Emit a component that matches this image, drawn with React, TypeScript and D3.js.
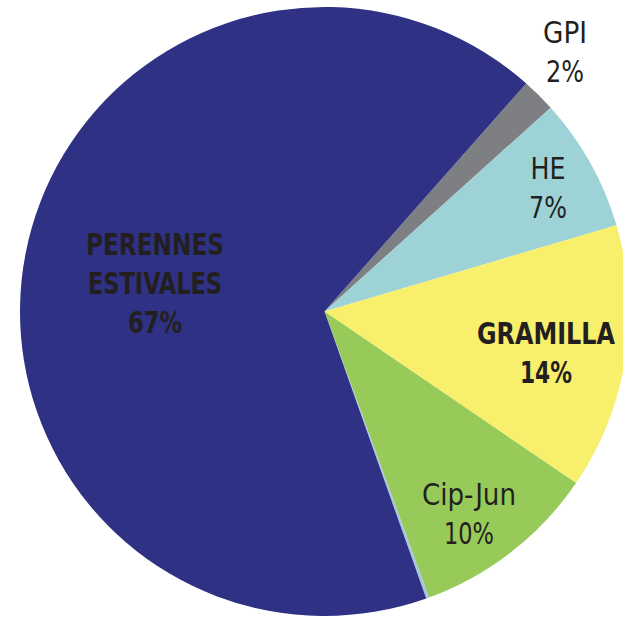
import React from "react";
import * as d3 from "d3";

const categories = ["GPI", "HE", "GRAMILLA", "Cip-Jun", "Otros", "PERENNES ESTIVALES"];
const values = [1.8, 7.1, 14.1, 9.9, 0.15, 66.95];
const percentLabels = ["2%", "7%", "14%", "10%", "", "67%"];
const colors = ["#7E7F83", "#9DD3D7", "#F8EF6D", "#97CA58", "#A7C4E4", "#2E3184"];

const W = 623;
const H = 617;
const cx = 324.5;
const cy = 311.5;
const R = 304.5;
const startDeg = 41.5;

// label layout: centre x, first baseline, weight, and the width of each line
const labelLayout: { x: number; y: number; bold: boolean; lines: string[]; widths: number[] }[] = [
  { x: 565, y: 43, bold: false, lines: ["GPI"], widths: [44, 38] },
  { x: 548, y: 179, bold: false, lines: ["HE"], widths: [35, 38] },
  { x: 546, y: 344, bold: true, lines: ["GRAMILLA"], widths: [138, 52] },
  { x: 469, y: 505, bold: false, lines: ["Cip-Jun"], widths: [94, 50] },
  { x: 0, y: 0, bold: false, lines: [], widths: [] },
  { x: 155, y: 255, bold: true, lines: ["PERENNES", "ESTIVALES"], widths: [138, 134, 54] },
];

export default function App() {
  const pie = d3
    .pie<number>()
    .sort(null)
    .value((d) => d)
    .startAngle((startDeg * Math.PI) / 180)
    .endAngle((startDeg * Math.PI) / 180 + 2 * Math.PI);
  const arcs = pie(values);
  const arc = d3.arc<d3.PieArcDatum<number>>().innerRadius(0).outerRadius(R);
  const lineH = 39;
  return (
    <svg
      width={W}
      height={H}
      style={{ position: "absolute", left: 0, top: 0, display: "block" }}
      fontFamily="'DejaVu Sans Condensed', 'Liberation Sans', sans-serif"
    >
      <rect width={W} height={H} fill="#fff" />
      <g transform={`translate(${cx},${cy})`}>
        {arcs.map((a, i) => (
          <path key={categories[i]} d={arc(a) || ""} fill={colors[i]} />
        ))}
      </g>
      {labelLayout.map((l, i) => {
        if (!percentLabels[i]) return null;
        const lines = [...l.lines, percentLabels[i]];
        return (
          <g key={categories[i]}>
            {lines.map((t, j) => (
              <text
                key={j}
                x={l.x}
                y={l.y + j * lineH}
                textAnchor="middle"
                fontSize={30}
                fontWeight={l.bold ? "bold" : "normal"}
                fill="#231F20"
                textLength={l.widths[j]}
                lengthAdjust="spacingAndGlyphs"
              >
                {t}
              </text>
            ))}
          </g>
        );
      })}
    </svg>
  );
}
